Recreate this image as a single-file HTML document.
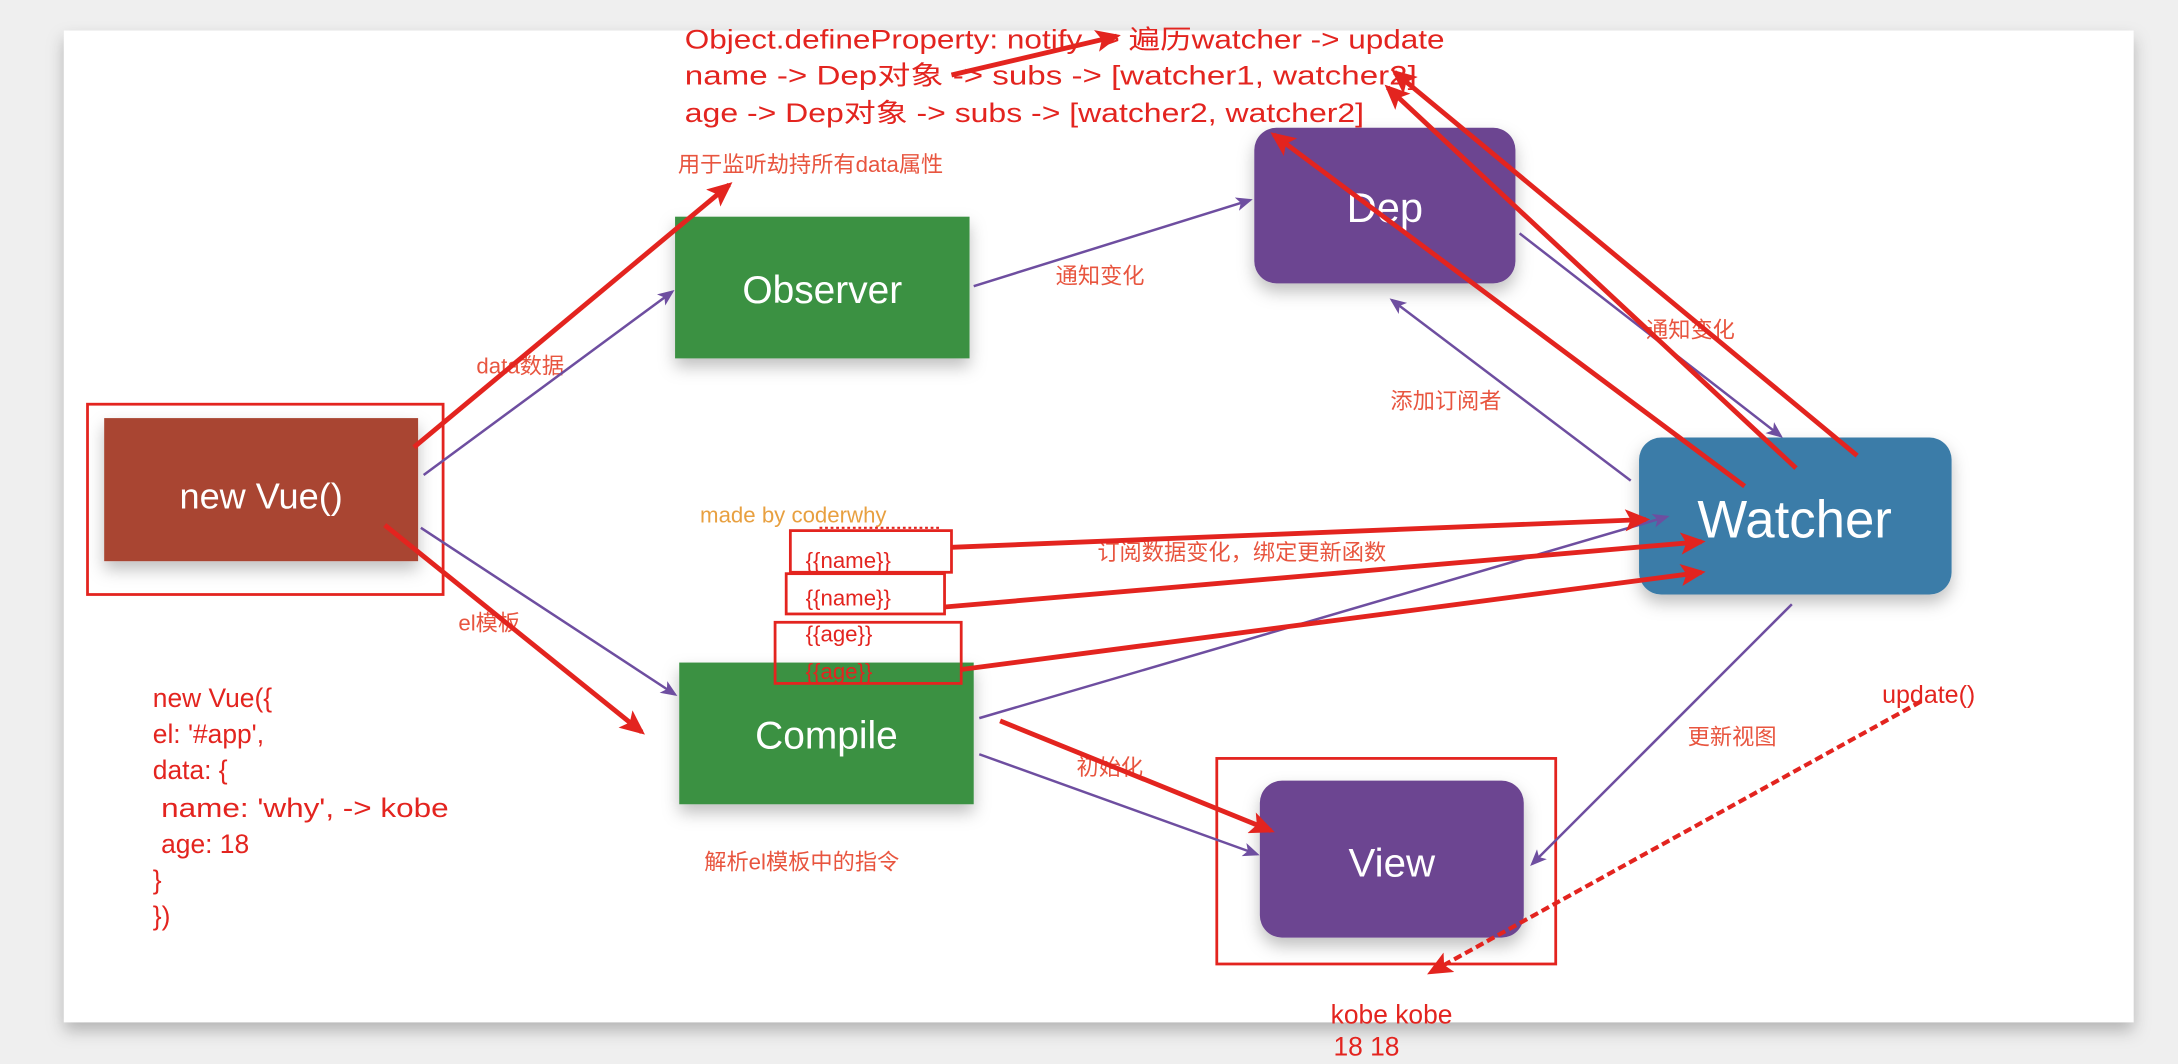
<!DOCTYPE html>
<html><head><meta charset="utf-8"><style>
html,body{margin:0;padding:0;background:#efefef;}
svg{display:block;}
text{font-family:"Liberation Sans","Noto Sans CJK SC",sans-serif;}
</style></head><body>
<svg width="2178" height="1064" viewBox="0 0 1568 766" preserveAspectRatio="none" xmlns="http://www.w3.org/2000/svg">
<defs>
<marker id="ar" markerWidth="18" markerHeight="16" refX="15" refY="8" orient="auto" markerUnits="userSpaceOnUse"><path d="M0,0 L18,8 L0,16 L4,8 z" fill="#e3241f"/></marker>
<marker id="ap" markerWidth="12" markerHeight="12" refX="10" refY="6" orient="auto" markerUnits="userSpaceOnUse"><path d="M0,1 L12,6 L0,11 L3,6 z" fill="#6e4ea0"/></marker>
<filter id="sh" x="-20%" y="-20%" width="140%" height="150%"><feDropShadow dx="0" dy="6" stdDeviation="6" flood-color="#000" flood-opacity="0.25"/></filter>
</defs>
<rect x="0" y="0" width="1568" height="766" fill="#efefef"/>
<rect x="46" y="22" width="1490" height="714" fill="#fff" filter="url(#sh)"/>

<rect x="75" y="301" width="226" height="103" fill="#a94432" filter="url(#sh)"/>
<rect x="63" y="291" width="256" height="137" fill="none" stroke="#e3241f" stroke-width="2"/>
<text x="188" y="366" font-size="26" fill="#fff" text-anchor="middle">new Vue()</text>

<rect x="486" y="156" width="212" height="102" fill="#3a9142" filter="url(#sh)"/>
<text x="592" y="218" font-size="28" fill="#fff" text-anchor="middle">Observer</text>

<rect x="489" y="477" width="212" height="102" fill="#3a9142" filter="url(#sh)"/>
<text x="595" y="539" font-size="28" fill="#fff" text-anchor="middle">Compile</text>

<rect x="903" y="92" width="188" height="112" rx="16" fill="#6c4591" filter="url(#sh)"/>
<text x="997" y="160" font-size="30" fill="#fff" text-anchor="middle">Dep</text>

<rect x="1180" y="315" width="225" height="113" rx="16" fill="#3a7ca8" filter="url(#sh)"/>
<text x="1292" y="387" font-size="38" fill="#fff" text-anchor="middle">Watcher</text>

<rect x="907" y="562" width="190" height="113" rx="16" fill="#6c4591" filter="url(#sh)"/>
<text x="1002" y="631" font-size="29" fill="#fff" text-anchor="middle">View</text>
<rect x="876" y="546" width="244" height="148" fill="none" stroke="#e3241f" stroke-width="2"/>

<g fill="#e3241f" font-size="19">
<text x="493" y="35" textLength="547" lengthAdjust="spacingAndGlyphs">Object.defineProperty: notify -&gt; 遍历watcher -&gt; update</text>
<text x="493" y="61" textLength="527" lengthAdjust="spacingAndGlyphs">name -&gt; Dep对象 -&gt; subs -&gt; [watcher1, watcher2]</text>
<text x="493" y="88" textLength="489" lengthAdjust="spacingAndGlyphs">age   -&gt; Dep对象 -&gt; subs -&gt; [watcher2, watcher2]</text>
</g>
<g fill="#e8553f" font-size="16">
<text x="488" y="124">用于监听劫持所有data属性</text>
<text x="343" y="269">data数据</text>
<text x="330" y="454">el模板</text>
<text x="760" y="204">通知变化</text>
<text x="1001" y="294">添加订阅者</text>
<text x="1185" y="243">通知变化</text>
<text x="790" y="403">订阅数据变化，绑定更新函数</text>
<text x="1215" y="536">更新视图</text>
<text x="775" y="558">初始化</text>
<text x="507" y="626">解析el模板中的指令</text>
</g>
<text x="504" y="376" font-size="16" fill="#e8a040">made by coderwhy</text>
<line x1="590" y1="380" x2="676" y2="380" stroke="#e3241f" stroke-width="1.5" stroke-dasharray="2,2"/>

<g fill="#e3241f" font-size="16">
<text x="580" y="409">{{name}}</text>
<text x="580" y="436">{{name}}</text>
<text x="580" y="462">{{age}}</text>
<text x="580" y="489">{{age}}</text>
</g>
<g fill="none" stroke="#e3241f" stroke-width="2">
<rect x="569" y="382" width="116" height="30"/>
<rect x="566" y="413" width="114" height="29"/>
<rect x="558" y="448" width="134" height="44"/>
</g>

<g fill="#e3241f" font-size="19">
<text x="110" y="509">new Vue({</text>
<text x="110" y="535">el: '#app',</text>
<text x="110" y="561">data: {</text>
<text x="116" y="588" textLength="207" lengthAdjust="spacingAndGlyphs">name: 'why', -&gt; kobe</text>
<text x="116" y="614">age: 18</text>
<text x="110" y="640">}</text>
<text x="110" y="666">})</text>
<text x="1355" y="506" font-size="18">update()</text>
<text x="958" y="737" font-size="19">kobe kobe</text>
<text x="960" y="760" font-size="19">18 18</text>
</g>

<g stroke="#6e4ea0" stroke-width="1.8" fill="none" marker-end="url(#ap)">
<line x1="305" y1="342" x2="484" y2="210"/>
<line x1="303" y1="380" x2="486" y2="500"/>
<line x1="701" y1="206" x2="900" y2="144"/>
<line x1="1094" y1="168" x2="1282" y2="314"/>
<line x1="1174" y1="346" x2="1002" y2="216"/>
<line x1="705" y1="517" x2="1200" y2="372"/>
<line x1="705" y1="543" x2="905" y2="615"/>
<line x1="1290" y1="435" x2="1103" y2="622"/>
</g>

<g stroke="#e3241f" stroke-width="3.5" fill="none" marker-end="url(#ar)">
<line x1="298" y1="322" x2="525" y2="133"/>
<line x1="277" y1="378" x2="462" y2="527"/>
<line x1="685" y1="54" x2="804" y2="26"/>
<line x1="1337" y1="328" x2="1004" y2="52"/>
<line x1="1293" y1="337" x2="999" y2="63"/>
<line x1="1256" y1="350" x2="917" y2="97"/>
<line x1="685" y1="394" x2="1185" y2="374"/>
<line x1="680" y1="437" x2="1225" y2="390"/>
<line x1="692" y1="482" x2="1225" y2="412"/>
<line x1="720" y1="519" x2="915" y2="598"/>
<line x1="1383" y1="505" x2="1030" y2="700" stroke-dasharray="6,3" stroke-width="3"/>
</g>
</svg>
</body></html>
